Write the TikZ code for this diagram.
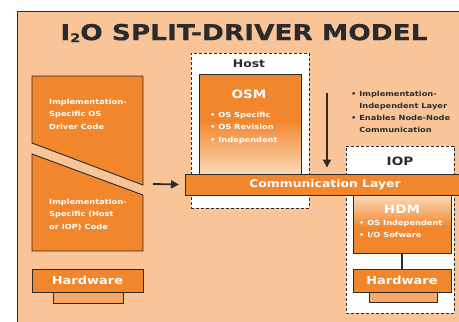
\documentclass[tikz,border=0pt]{standalone}
\usepackage{fontspec}
\setmainfont{DejaVu Sans}[FakeStretch=1.18]
\newfontfamily\titlefont{DejaVu Sans}[FakeStretch=1.2, FakeBold=0.6]
\usetikzlibrary{arrows.meta}
\definecolor{peach}{HTML}{F9C598}
\definecolor{orng}{HTML}{F1862C}
\definecolor{baseorng}{HTML}{F7A869}
\definecolor{pale}{HTML}{FCD8B8}
\definecolor{ink}{HTML}{2B2B2B}
\begin{document}
\begin{tikzpicture}[x=1pt,y=-1pt,
  outline/.style={draw=ink, line width=0.9pt},
  box/.style={outline, fill=orng, inner sep=0pt},
  basebox/.style={outline, fill=baseorng, inner sep=0pt},
  dashbox/.style={draw=ink, line width=0.9pt, dash pattern=on 3pt off 2pt, fill=white},
  small/.style={text=white, font=\fontsize{7}{12.3}\selectfont\bfseries, align=left, inner sep=0pt},
  blabel/.style={text=white, font=\fontsize{11}{12}\selectfont\bfseries, inner sep=0pt},
  klabel/.style={text=ink, font=\fontsize{10.5}{12}\selectfont\bfseries, inner sep=0pt},
  arr/.style={draw=ink, line width=1.8pt, -{Triangle[length=8pt,width=8pt]}}
]
\useasboundingbox (0,0) rectangle (459,322);
\clip (0,0) rectangle (459,322);

% panel background
\draw[fill=peach, draw=ink, line width=0.8pt] (17,11) rectangle (480,340);

% title
\node[text=ink, font=\titlefont\fontsize{22}{24}\selectfont\bfseries, inner sep=0pt] (title) at (244,33)
  {I\raisebox{-2pt}{\fontsize{12}{12}\selectfont 2}O SPLIT-DRIVER MODEL};

% left column: driver code split in two
\draw[box] (32,76) -- (143,76) -- (143,185) -- (32,143) -- cycle;
\draw[box] (32,154) -- (143,195) -- (143,251) -- (32,251) -- cycle;
\node[small, anchor=north west] (osdrv) at (49,99) {Implementation-\\Specific OS\\Driver Code};
\node[small, anchor=north west] (hostcode) at (49,199) {Implementation-\\Specific (Host\\or IOP) Code};
\node[basebox, minimum width=70, minimum height=11] (baseL) at (88,297.5) {};
\node[box, minimum width=111, minimum height=23] (hwL) at (87.5,280.5) {};
\node[blabel] at (hwL) {Hardware};

% host side
\node[dashbox, minimum width=118, minimum height=155, inner sep=0pt] (host) at (250,130.5) {};
\node[klabel] at (249,64) {Host};
\fill[orng] (199,74) rectangle (301,120);
\shade[top color=orng, bottom color=pale] (199,120) rectangle (301,174);
\draw[outline] (199,174) -- (199,74) -- (301,74) -- (301,174);
\coordinate (osm) at (250,74);
\node[blabel, font=\fontsize{11.5}{12}\selectfont\bfseries] at (249,94) {OSM};
\node[small, anchor=north west] (osmtxt) at (210,112) {• OS Specific\\• OS Revision\\• Independent};

% IOP side
\node[dashbox, minimum width=108, minimum height=167, inner sep=0pt] (iop) at (400,229.5) {};
\node[klabel, font=\fontsize{11.5}{12}\selectfont\bfseries] at (400,161) {IOP};
\shade[top color=pale, bottom color=orng] (353,195) rectangle (451,228);
\fill[orng] (353,228) rectangle (451,253);
\draw[outline] (353,195) -- (353,253) -- (451,253) -- (451,195);
\coordinate (hdm) at (402,253);
\node[blabel, font=\fontsize{11.5}{12}\selectfont\bfseries] at (402,209) {HDM};
\node[small, anchor=north west] (hdmtxt) at (359,220) {• OS Independent\\• I/O Sofware};
\node[basebox, minimum width=68, minimum height=11] (baseR) at (403,297) {};
\node[box, minimum width=98, minimum height=23] (hwR) at (402,280.5) {};
\node[blabel] at (hwR) {Hardware};
\draw[draw=ink, line width=1.8pt] (hdm) -- (hwR.north);

% communication layer
\node[box, minimum width=290, minimum height=21, anchor=west] (comm) at (185,184.5) {};
\node[blabel, font=\fontsize{10.5}{12}\selectfont\bfseries] at (325,184.5) {Communication Layer};

% notes on the communication layer
\node[text=ink, font=\fontsize{7}{12}\selectfont\bfseries, align=left, inner sep=0pt, anchor=north west] (notes) at (351,91)
  {• Implementation-\\\hphantom{• }Independent Layer\\• Enables Node-Node\\\hphantom{• }Communication};

% arrows
\coordinate (arrtop) at (327,93);
\draw[arr] (arrtop) -- ([yshift=6pt]arrtop |- comm.north);
\coordinate (arrleft) at (153,184);
\draw[arr] (arrleft) -- ([xshift=-6pt]comm.west);
\end{tikzpicture}
\end{document}
